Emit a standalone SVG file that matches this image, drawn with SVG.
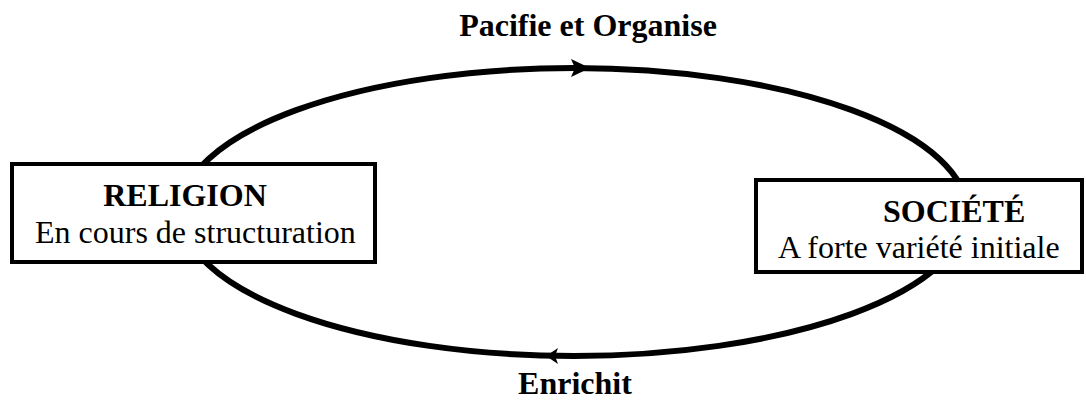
<svg xmlns="http://www.w3.org/2000/svg" width="1086" height="408" viewBox="0 0 1086 408">
<style>
text{font-family:'Liberation Serif','Times New Roman',Times,serif;font-size:32px;fill:#000}
.b{font-weight:bold}
.box{fill:#fff;stroke:#000;stroke-width:4}
.edge{fill:none;stroke:#000;stroke-width:6}
</style>
<rect width="1086" height="408" fill="#fff"/>
<g id="connectors">
<ellipse class="edge" cx="574" cy="212" rx="393" ry="144"/>
<polygon points="590,68 571,59 575,68 571,77" fill="#000"/>
<polygon points="546,356 558,348 555,356 558,364" fill="#000"/>
<text class="b" x="588" y="36" text-anchor="middle">Pacifie et Organise</text>
<text class="b" x="575" y="394" text-anchor="middle">Enrichit</text>
</g>
<g id="religion">
<rect class="box" x="12" y="164" width="363" height="98"/>
<text class="b" x="185" y="206" text-anchor="middle">RELIGION</text>
<text x="35" y="243">En cours de structuration</text>
</g>
<g id="societe">
<rect class="box" x="756" y="180" width="326" height="92"/>
<text class="b" x="883" y="222">SOCIÉTÉ</text>
<text x="778" y="258">A forte variété initiale</text>
</g>
</svg>
